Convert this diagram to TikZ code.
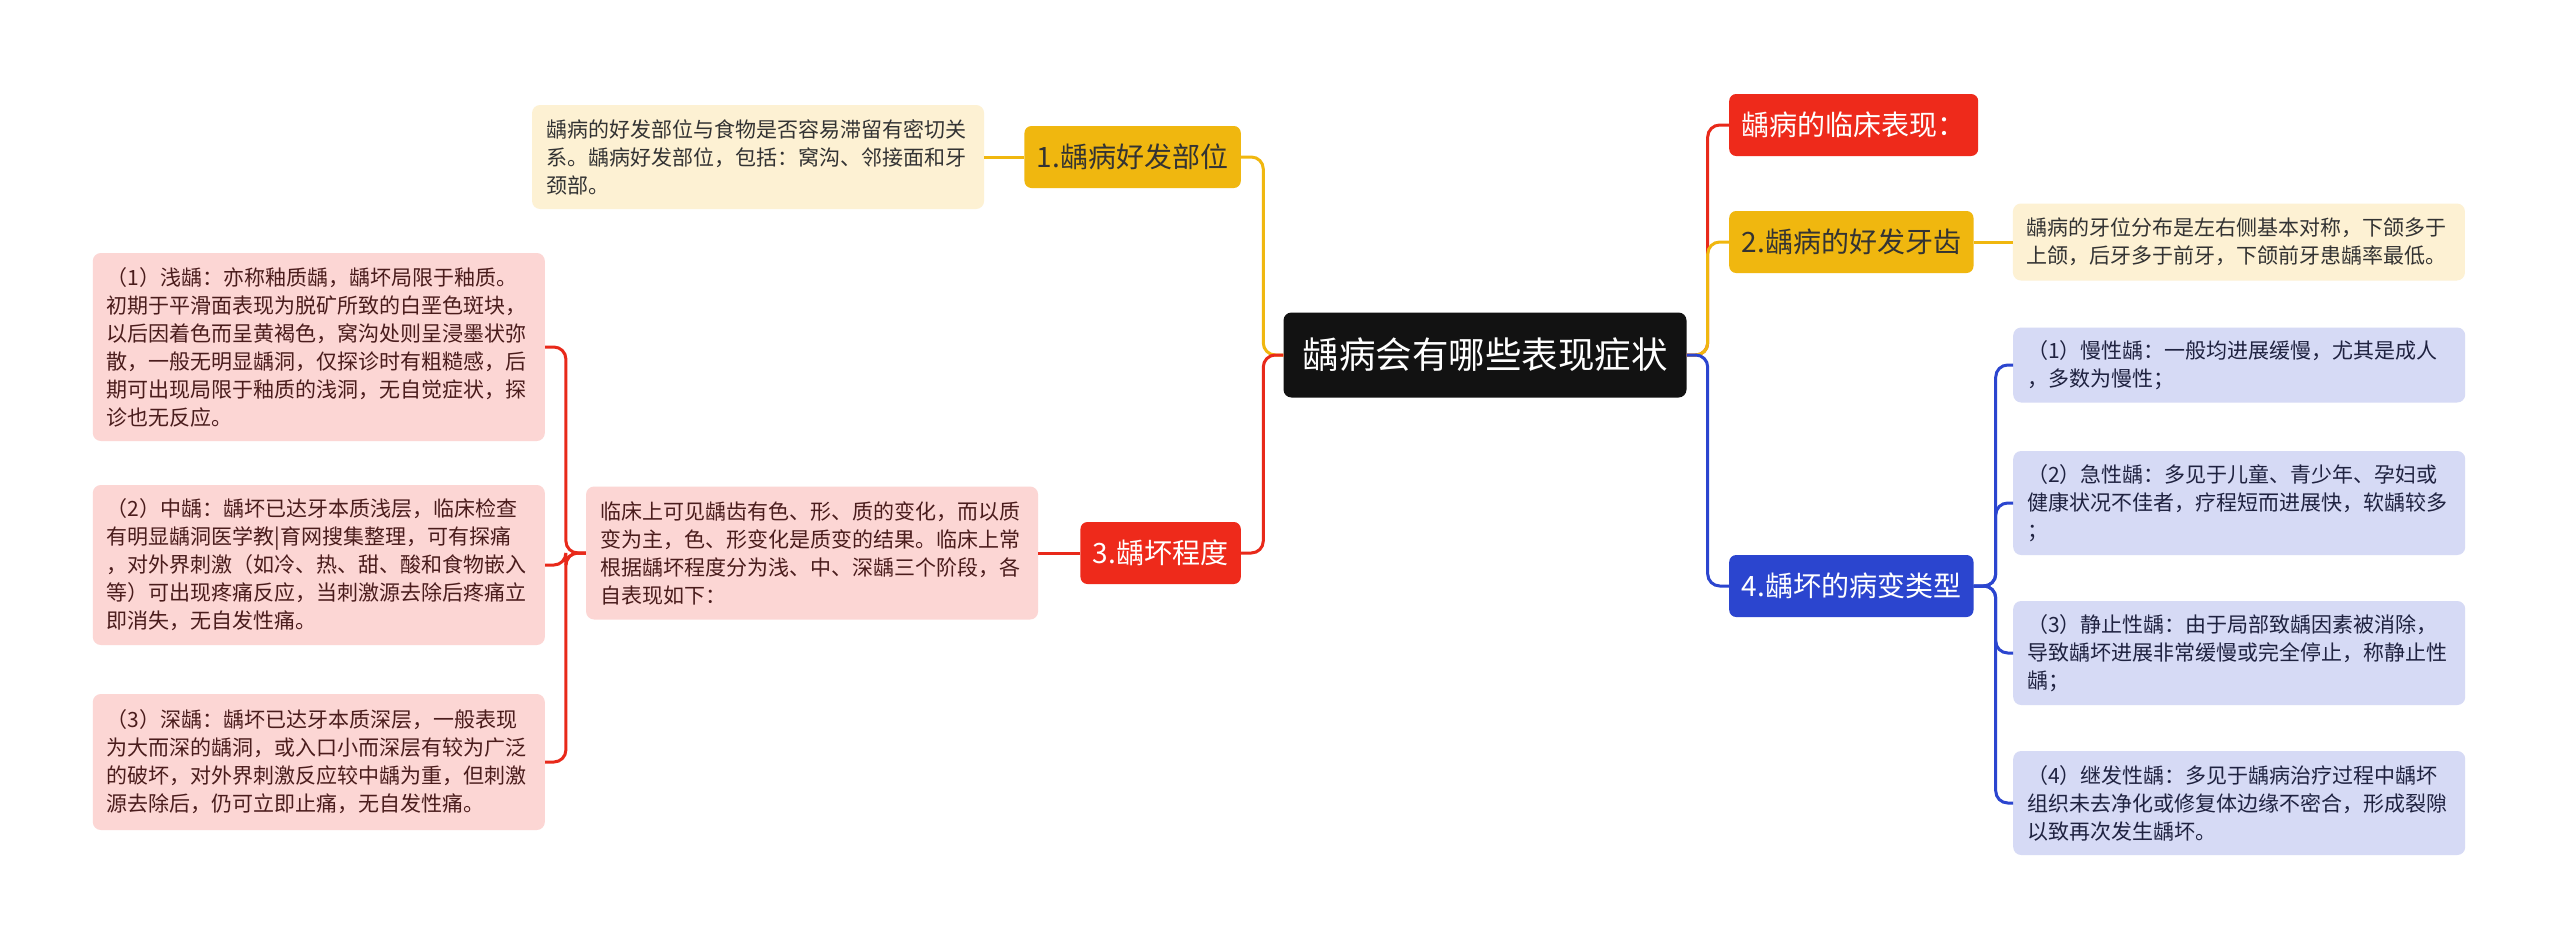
\documentclass[tikz,border=0pt]{standalone}
\usepackage{fontspec}
\setmainfont{Noto Sans CJK SC}
\usepackage{xcolor}
\usepackage{tikz}
\usetikzlibrary{positioning, calc}

\definecolor{rootblack}{HTML}{121212}
\definecolor{goldtopic}{HTML}{F0B70F}
\definecolor{goldnote}{HTML}{FDF1D3}
\definecolor{redtopic}{HTML}{EE2A1B}
\definecolor{redline}{HTML}{E8291A}
\definecolor{rednote}{HTML}{FCD6D4}
\definecolor{bluetopic}{HTML}{2B45CF}
\definecolor{bluenote}{HTML}{D6DAF5}
\definecolor{darktext}{HTML}{333333}
\definecolor{redtext}{HTML}{4A1C1C}
\definecolor{bluetext}{HTML}{1F2240}

\begin{document}
\begin{tikzpicture}[x=1pt, y=-1pt,
  root/.style={fill=rootblack, text=white, rounded corners=8pt, inner xsep=19pt, inner ysep=0pt,
    minimum height=85pt, font=\fontsize{36.5}{44}\selectfont},
  topic/.style={rounded corners=7pt, inner xsep=12.5pt, inner ysep=0pt, minimum height=62pt,
    font=\fontsize{28}{34}\selectfont},
  note/.style={rounded corners=8pt, text width=424pt, inner xsep=14pt, inner ysep=0pt, align=left,
    font=\fontsize{21}{28}\selectfont},
  link/.style={line width=3pt, rounded corners=12pt}]

\useasboundingbox (0,0) rectangle (2560,950);
\fill[white] (0,0) rectangle (2560,950);

% Define nodes
\node[root] (root) at (1485,355) {龋病会有哪些表现症状};

% Left branches
\node[topic, fill=goldtopic, text=darktext, anchor=east] (t1) at (1241,157) {1.龋病好发部位};
\node[note, fill=goldnote, text=darktext, minimum height=104pt, left=40pt of t1] (n1)
  {龋病的好发部位与食物是否容易滞留有密切关\\系。龋病好发部位，包括：窝沟、邻接面和牙\\颈部。};

\node[topic, fill=redtopic, text=white, anchor=east] (t3) at (1241,553) {3.龋坏程度};
\node[note, fill=rednote, text=redtext, minimum height=133pt, left=42pt of t3] (n3)
  {临床上可见龋齿有色、形、质的变化，而以质\\变为主，色、形变化是质变的结果。临床上常\\根据龋坏程度分为浅、中、深龋三个阶段，各\\自表现如下：};

\node[note, fill=rednote, text=redtext, minimum height=188pt, anchor=east] (s1) at (545,347)
  {（1）浅龋：亦称釉质龋，龋坏局限于釉质。\\初期于平滑面表现为脱矿所致的白垩色斑块，\\以后因着色而呈黄褐色，窝沟处则呈浸墨状弥\\散，一般无明显龋洞，仅探诊时有粗糙感，后\\期可出现局限于釉质的浅洞，无自觉症状，探\\诊也无反应。};
\node[note, fill=rednote, text=redtext, minimum height=160pt, anchor=east] (s2) at (545,565)
  {（2）中龋：龋坏已达牙本质浅层，临床检查\\有明显龋洞医学教|育网搜集整理，可有探痛\\，对外界刺激（如冷、热、甜、酸和食物嵌入\\等）可出现疼痛反应，当刺激源去除后疼痛立\\即消失，无自发性痛。};
\node[note, fill=rednote, text=redtext, minimum height=136pt, anchor=east] (s3) at (545,762)
  {（3）深龋：龋坏已达牙本质深层，一般表现\\为大而深的龋洞，或入口小而深层有较为广泛\\的破坏，对外界刺激反应较中龋为重，但刺激\\源去除后，仍可立即止痛，无自发性痛。};

% Right branches
\node[topic, fill=redtopic, text=white, anchor=west] (t0) at (1729,125) {龋病的临床表现：};
\node[topic, fill=goldtopic, text=darktext, anchor=west] (t2) at (1729,242) {2.龋病的好发牙齿};
\node[note, fill=goldnote, text=darktext, minimum height=77pt, right=39pt of t2] (n2)
  {龋病的牙位分布是左右侧基本对称，下颌多于\\上颌，后牙多于前牙，下颌前牙患龋率最低。};

\node[topic, fill=bluetopic, text=white, anchor=west] (t4) at (1729,586) {4.龋坏的病变类型};
\node[note, fill=bluenote, text=bluetext, minimum height=75pt, anchor=west] (k1) at (2013,365)
  {（1）慢性龋：一般均进展缓慢，尤其是成人\\，多数为慢性；};
\node[note, fill=bluenote, text=bluetext, minimum height=104pt, anchor=west] (k2) at (2013,503)
  {（2）急性龋：多见于儿童、青少年、孕妇或\\健康状况不佳者，疗程短而进展快，软龋较多\\；};
\node[note, fill=bluenote, text=bluetext, minimum height=104pt, anchor=west] (k3) at (2013,653)
  {（3）静止性龋：由于局部致龋因素被消除，\\导致龋坏进展非常缓慢或完全停止，称静止性\\龋；};
\node[note, fill=bluenote, text=bluetext, minimum height=104pt, anchor=west] (k4) at (2013,803)
  {（4）继发性龋：多见于龋病治疗过程中龋坏\\组织未去净化或修复体边缘不密合，形成裂隙\\以致再次发生龋坏。};

% Left connectors
\draw[link, goldtopic] (root.west) -- ++(-20,0) |- (t1.east);
\draw[link, redline] (root.west) -- ++(-20,0) |- (t3.east);
\draw[link, goldtopic] (t1.west) -- (n1.east);
\draw[link, redline] (t3.west) -- (n3.east);
\foreach \s in {s1,s2,s3}
  \draw[link, redline] (n3.west) -- ++(-20,0) |- (\s.east);

% Right connectors
\draw[link, redline] (root.east) -- ++(21,0) |- (t0.west);
\draw[link, goldtopic] (root.east) -- ++(21,0) |- (t2.west);
\draw[link, bluetopic] (root.east) -- ++(21,0) |- (t4.west);
\draw[link, goldtopic] (t2.east) -- (n2.west);
\foreach \k in {k1,k2,k3,k4}
  \draw[link, bluetopic] (t4.east) -- ++(22,0) |- (\k.west);

\end{tikzpicture}
\end{document}
